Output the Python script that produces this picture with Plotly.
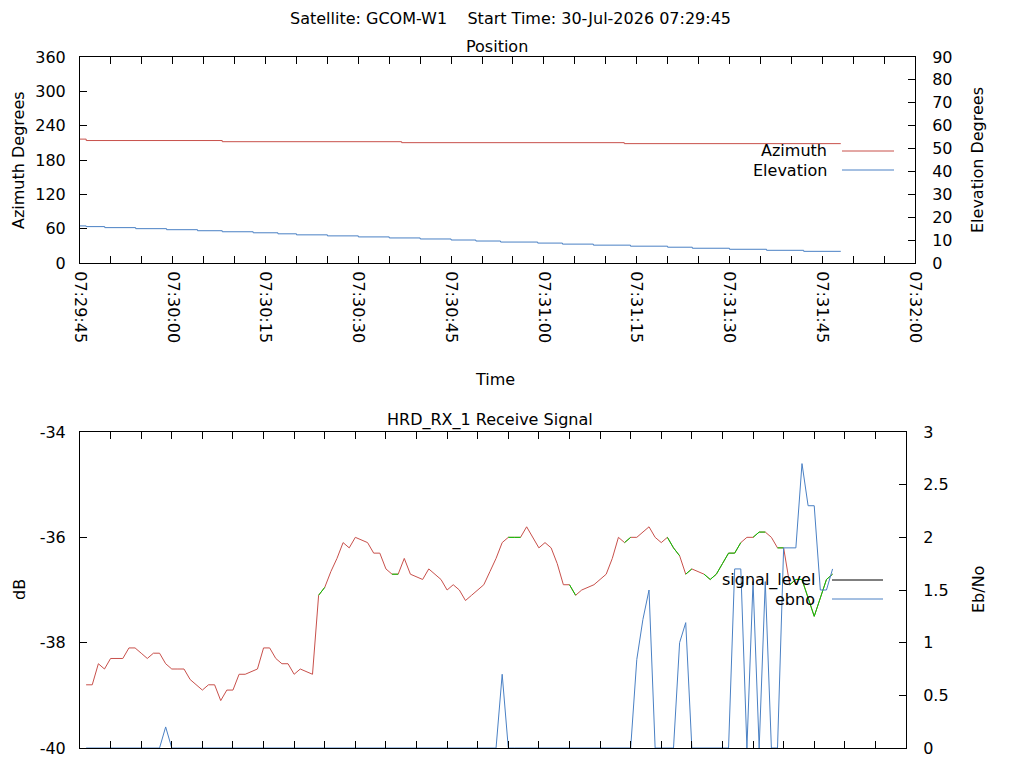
import pandas as pd
import plotly.graph_objects as go

start_time = pd.Timestamp("2026-07-30 07:29:45")
end_time = pd.Timestamp("2026-07-30 07:32:00")

# position data, seconds after start (values only change every few seconds)
azimuth_sec = [0, 1, 23, 52, 88, 123]
azimuth_deg = [216.5, 214.0, 212.0, 210.3, 208.6, 208.6]

elevation_sec = [0, 1, 4, 9, 14, 19, 23, 28, 32, 35, 40, 45, 50, 55, 60,
                 64, 68, 74, 78, 83, 89, 95, 99, 105, 111, 117, 123]
elevation_deg = [16.2, 15.9, 15.45, 15.0, 14.55, 14.1, 13.65, 13.2, 12.75,
                 12.3, 11.85, 11.4, 10.95, 10.5, 10.05, 9.6, 9.15, 8.7, 8.25,
                 7.8, 7.35, 6.9, 6.45, 6.0, 5.55, 5.1, 5.1]

# receive signal, one sample per second from 07:29:46
signal_db = [-38.8, -38.8, -38.4, -38.5, -38.3, -38.3, -38.3, -38.1, -38.1, -38.2,
             -38.3, -38.2, -38.2, -38.4, -38.5, -38.5, -38.5, -38.7, -38.8, -38.9,
             -38.8, -38.8, -39.1, -38.9, -38.9, -38.6, -38.6, -38.55, -38.5, -38.1,
             -38.1, -38.3, -38.4, -38.4, -38.6, -38.5, -38.55, -38.6, -37.1, -36.95,
             -36.65, -36.4, -36.1, -36.2, -36.0, -36.05, -36.1, -36.3, -36.3, -36.6,
             -36.7, -36.7, -36.4, -36.7, -36.75, -36.8, -36.6, -36.7, -36.8, -37.0,
             -36.9, -37.0, -37.2, -37.1, -37.0, -36.9, -36.65, -36.4, -36.1, -36.0,
             -36.0, -36.0, -35.8, -36.0, -36.2, -36.1, -36.2, -36.5, -36.9, -36.9,
             -37.1, -37.0, -36.95, -36.9, -36.8, -36.7, -36.4, -36.0, -36.1, -36.0,
             -36.0, -35.9, -35.8, -36.0, -36.1, -36.0, -36.2, -36.35, -36.7, -36.6,
             -36.65, -36.7, -36.8, -36.7, -36.5, -36.3, -36.3, -36.1, -36.0, -36.0,
             -35.9, -35.9, -36.0, -36.2, -36.2, -36.9, -36.8, -36.8, -37.15, -37.5,
             -37.15, -36.8, -36.7]
ebno = [0, 0, 0, 0, 0, 0, 0, 0, 0, 0,
        0, 0, 0, 0.2, 0, 0, 0, 0, 0, 0,
        0, 0, 0, 0, 0, 0, 0, 0, 0, 0,
        0, 0, 0, 0, 0, 0, 0, 0, 0, 0,
        0, 0, 0, 0, 0, 0, 0, 0, 0, 0,
        0, 0, 0, 0, 0, 0, 0, 0, 0, 0,
        0, 0, 0, 0, 0, 0, 0, 0, 0.7, 0,
        0, 0, 0, 0, 0, 0, 0, 0, 0, 0,
        0, 0, 0, 0, 0, 0, 0, 0, 0, 0,
        0.84, 1.22, 1.5, 0, 0, 0, 0, 1.0, 1.19, 0,
        0, 0, 0, 0, 0, 0, 1.7, 1.7, 0, 1.58,
        0, 1.58, 0, 0, 1.9, 1.9, 1.9, 2.7, 2.3, 2.3,
        1.5, 1.5, 1.7]
# seconds whose incoming segment is drawn green
locked_sec = [40, 52, 71, 72, 81, 90, 97, 98, 100, 103, 104, 105, 106, 107, 108,
              111, 112, 115, 117, 118, 119, 120, 121, 122, 123]

db_ticks = [-40, -38, -36, -34]
db_labels = ["-40", "-38", "-36", "-34"]

RED = "#c8504b"
BLUE = "#4a80c4"
GREEN = "#00c800"
FONT = dict(family="DejaVu Sans", size=16, color="black")

# the page body adds an 8px margin, so the figure is a bit smaller than the window
W, H, PAD = 1016, 760, 8

az_time = start_time + pd.to_timedelta(azimuth_sec, unit="s")
el_time = start_time + pd.to_timedelta(elevation_sec, unit="s")
sig_sec = list(range(1, len(signal_db) + 1))
sig_time = start_time + pd.to_timedelta(sig_sec, unit="s")

green_x, green_y = [], []
for i in range(1, len(signal_db)):
    if sig_sec[i] in locked_sec:
        green_x += [sig_time[i - 1], sig_time[i], None]
        green_y += [signal_db[i - 1], signal_db[i], None]

fig = go.Figure()
fig.add_trace(go.Scatter(x=az_time, y=azimuth_deg, mode="lines", line_shape="hv",
                         line=dict(color=RED, width=1), xaxis="x", yaxis="y"))
fig.add_trace(go.Scatter(x=el_time, y=elevation_deg, mode="lines", line_shape="hv",
                         line=dict(color=BLUE, width=1), xaxis="x", yaxis="y2"))
fig.add_trace(go.Scatter(x=sig_time, y=signal_db, mode="lines",
                         line=dict(color=RED, width=1), xaxis="x2", yaxis="y3"))
fig.add_trace(go.Scatter(x=green_x, y=green_y, mode="lines",
                         line=dict(color=GREEN, width=1), xaxis="x2", yaxis="y3"))
fig.add_trace(go.Scatter(x=sig_time, y=ebno, mode="lines",
                         line=dict(color=BLUE, width=1), xaxis="x2", yaxis="y4"))


def px_x(p):
    return (p - PAD) / W


def px_y(p):
    return 1 - (p - PAD) / H


axis_style = dict(showline=True, linecolor="black", linewidth=1, ticks="inside",
                  ticklen=7, tickcolor="black", showgrid=False, zeroline=False,
                  tickfont=FONT, automargin=False)
time_axis = dict(axis_style, type="date", range=[start_time, end_time],
                 tick0=start_time, dtick=15000, tickformat="%H:%M:%S",
                 mirror="allticks",
                 minor=dict(dtick=5000, ticks="inside", ticklen=4,
                            tickcolor="black", showgrid=False))

fig.update_layout(
    template="none",
    width=W, height=H, showlegend=False,
    margin=dict(l=0, r=0, t=0, b=0, autoexpand=False),
    paper_bgcolor="white", plot_bgcolor="white", font=FONT,
    xaxis=dict(time_axis, domain=[px_x(80), px_x(915)], anchor="y",
               tickangle=90, ticklabelstandoff=4),
    yaxis=dict(axis_style, domain=[px_y(263), px_y(57)], range=[0, 360],
               dtick=60, anchor="x", ticklabelstandoff=10),
    yaxis2=dict(axis_style, overlaying="y", side="right", anchor="x",
                range=[0, 90], dtick=10, ticklabelstandoff=13),
    xaxis2=dict(time_axis, domain=[px_x(80), px_x(906)], anchor="y3",
                showticklabels=False),
    yaxis3=dict(axis_style, domain=[px_y(748), px_y(432)], range=[-40, -34],
                tickvals=db_ticks, ticktext=db_labels, anchor="x2",
                ticklabelstandoff=10),
    yaxis4=dict(axis_style, overlaying="y3", side="right", anchor="x2",
                range=[0, 3], dtick=0.5, ticklabelstandoff=13),
)

texts = [
    ("Satellite: GCOM-W1    Start Time: 30-Jul-2026 07:29:45", 510, 18, "center", 0),
    ("Position", 497, 46, "center", 0),
    ("Time", 495, 379, "center", 0),
    ("HRD_RX_1 Receive Signal", 490, 420, "center", 0),
    ("Azimuth Degrees", 19, 160, "center", -90),
    ("Elevation Degrees", 978, 160, "center", -90),
    ("dB", 19, 590, "center", -90),
    ("Eb/No", 978, 590, "center", -90),
    ("Azimuth", 829, 151, "right", 0),
    ("Elevation", 829, 170, "right", 0),
    ("signal_level", 817, 580, "right", 0),
    ("ebno", 817, 599, "right", 0),
]
for text, x, y, anchor, angle in texts:
    fig.add_annotation(text=text, x=px_x(x), y=px_y(y), xref="paper", yref="paper",
                       xanchor=anchor, yanchor="middle", showarrow=False,
                       textangle=angle, font=FONT)

key_lines = [(842, 894, 151, RED), (842, 894, 170, BLUE),
             (832, 883, 580, "black"), (832, 883, 599, BLUE)]
for x0, x1, y, color in key_lines:
    fig.add_shape(type="line", xref="paper", yref="paper",
                  x0=px_x(x0), x1=px_x(x1), y0=px_y(y), y1=px_y(y),
                  line=dict(color=color, width=1))

fig.write_html("out.html")
